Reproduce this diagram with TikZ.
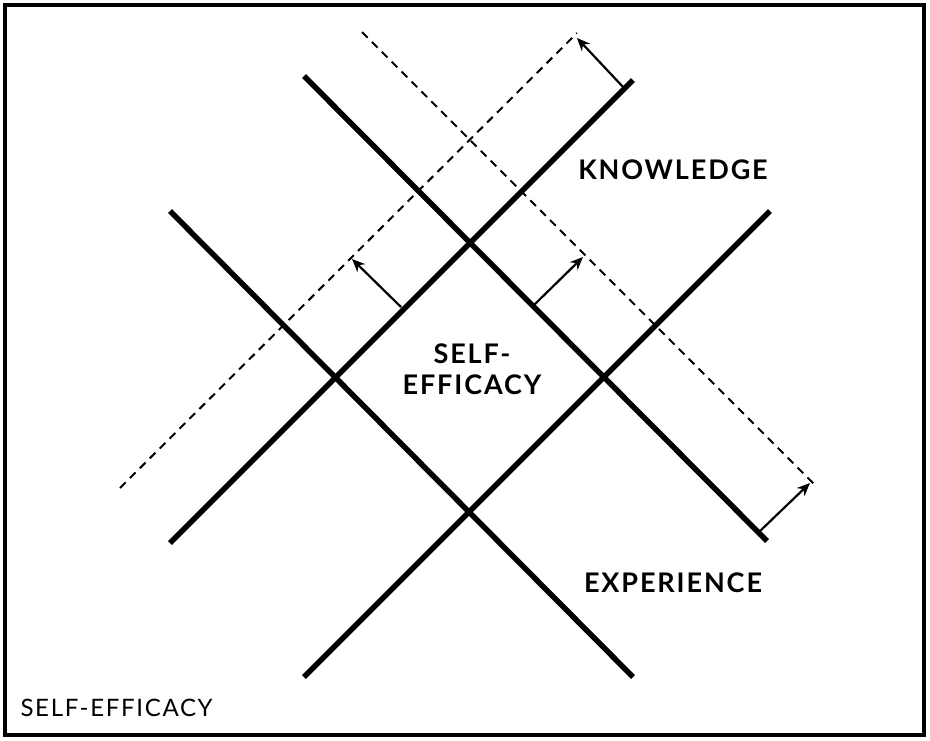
\documentclass[tikz,border=0pt]{standalone}
\usepackage{fontspec}
\setmainfont{Lato}
\newfontfamily\widefont[LetterSpace=7]{Lato}
\usetikzlibrary{arrows.meta}

\tikzset{
  solidline/.style={line width=5.5pt},
  guideline/.style={line width=2pt, dash pattern=on 8pt off 6pt},
  shift arrow/.style={line width=2.2pt, -{Stealth[length=13pt,width=11pt]}},
  label/.style={font=\widefont\bfseries\fontsize{27}{31}\selectfont, align=center}
}

\begin{document}
\begin{tikzpicture}[x=1pt, y=-1pt]

\useasboundingbox (0,0) rectangle (930,740);
\draw[line width=3.5pt] (5,5) rectangle (924,735);

% the four solid lines
\coordinate (a1) at (170,543); \coordinate (a2) at (633,80);
\coordinate (b1) at (304,677); \coordinate (b2) at (770,211);
\coordinate (c1) at (304,76);  \coordinate (c2) at (767,541);
\coordinate (d1) at (170,211); \coordinate (d2) at (633,677);
\draw[solidline] (a1) -- (a2);
\draw[solidline] (b1) -- (b2);
\draw[solidline] (c1) -- (c2);
\draw[solidline] (d1) -- (d2);

% shifted dashed lines
\coordinate (e1) at (120,488); \coordinate (e2) at (577,33);
\coordinate (f1) at (362,32);  \coordinate (f2) at (817,487);
\draw[guideline] (e1) -- (e2);
\draw[guideline] (f1) -- (f2);

% shift arrows
\coordinate (p1) at (624,88);  \coordinate (q1) at (577,38);
\coordinate (p2) at (401,307); \coordinate (q2) at (352,259);
\coordinate (p3) at (534,305); \coordinate (q3) at (583,257);
\coordinate (p4) at (760,531); \coordinate (q4) at (810,483);
\foreach \i in {1,...,4}
  \draw[shift arrow] (p\i) -- (q\i);

\node[label] (knowledge) at (673,170) {KNOWLEDGE};
\node[label] (selfeff) at (472,369) {SELF-\\EFFICACY};
\node[label] (experience) at (673,583) {EXPERIENCE};
\node[font=\widefont\fontsize{24}{28}\selectfont, anchor=west] (caption) at (17,708) {SELF-EFFICACY};

\end{tikzpicture}
\end{document}
